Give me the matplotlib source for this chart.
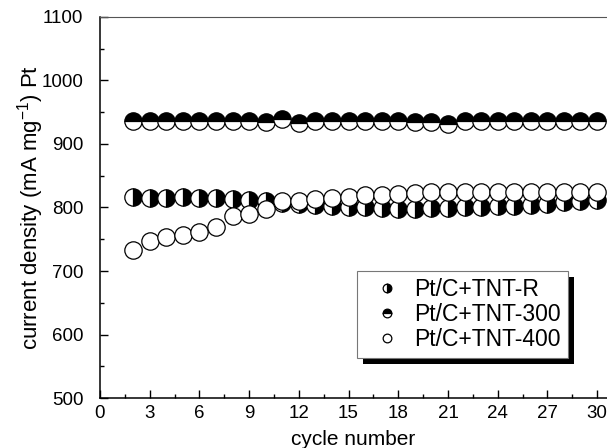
import matplotlib
matplotlib.use("Agg")
import matplotlib.pyplot as plt
from matplotlib.patches import Rectangle
from matplotlib.ticker import MultipleLocator

plt.rcParams['font.family'] = ['Liberation Sans', 'DejaVu Sans']
plt.rcParams['mathtext.fontset'] = 'custom'
plt.rcParams['mathtext.rm'] = 'Liberation Sans'
plt.rcParams['mathtext.it'] = 'Liberation Sans:italic'

# valores (ciclos 2..30)
cycles = list(range(2, 31))
tnt_r = [816, 815, 815, 816, 815, 815, 814, 812, 810, 807, 805, 804, 803, 801, 800,
         799, 798, 798, 799, 799, 800, 801, 802, 803, 804, 806, 808, 810, 812]
tnt_300 = [937, 937, 936, 937, 937, 936, 937, 936, 935, 939, 933, 936, 937, 937, 937,
           937, 936, 935, 934, 931, 937, 937, 937, 937, 937, 937, 937, 937, 937]
tnt_400 = [733, 747, 753, 757, 762, 770, 787, 790, 797, 810, 811, 813, 815, 817, 819,
           820, 822, 823, 824, 824, 825, 825, 825, 825, 825, 824, 824, 825, 825]
labels = ['Pt/C+TNT-R', 'Pt/C+TNT-300', 'Pt/C+TNT-400']

fig = plt.figure(figsize=(6.07, 4.48), dpi=100)
ax = fig.add_axes([100/607, 1 - 398/448, 1 - 100/607, (398 - 17)/448])

ms = 12.5
ax.plot(cycles, tnt_r, 'o', ls='none', ms=ms, mec='black', mew=0.9,
        fillstyle='right', mfc='black', mfcalt='white', label=labels[0])
ax.plot(cycles, tnt_300, 'o', ls='none', ms=ms, mec='black', mew=0.9,
        fillstyle='top', mfc='black', mfcalt='white', label=labels[1])
ax.plot(cycles, tnt_400, 'o', ls='none', ms=ms, mec='black', mew=0.9,
        mfc='white', label=labels[2])

ax.set_xlim(0, 30.6)
ax.set_ylim(500, 1100)
ax.xaxis.set_major_locator(MultipleLocator(3))
ax.xaxis.set_minor_locator(MultipleLocator(1.5))
ax.yaxis.set_major_locator(MultipleLocator(100))
ax.yaxis.set_minor_locator(MultipleLocator(50))
ax.tick_params(which='both', direction='in', labelsize=13.5, width=1, top=False, right=False)
ax.tick_params(which='major', length=5.5)
ax.tick_params(which='minor', length=3)
ax.tick_params(axis='x', which='major', pad=5)
ax.tick_params(axis='y', which='major', pad=12)
ax.spines['right'].set_visible(False)
ax.spines['top'].set_color('#555555')
for s in ['left', 'bottom']:
    ax.spines[s].set_linewidth(1.1)

ax.set_xlabel('cycle number', fontsize=15, labelpad=6)
ax.set_ylabel('current density (mA mg$^{-1}$) Pt', fontsize=16, labelpad=-3)

leg = ax.legend(loc='upper left', bbox_to_anchor=(357/607, 1 - 271/448),
                bbox_transform=fig.transFigure, fontsize=16.5, markerscale=0.5,
                fancybox=False, edgecolor='#777777', framealpha=1,
                handletextpad=0.2, borderpad=0.3, labelspacing=0.1,
                handlelength=2.0, borderaxespad=0)
leg.get_frame().set_linewidth(0.8)
leg.set_zorder(5)

# sombra preta deslocada atrás da legenda
fig.canvas.draw()
bb = leg.get_window_extent().transformed(fig.transFigure.inverted())
dx, dy = 6/607, 6/448
shadow = Rectangle((bb.x0 + dx, bb.y0 - dy), bb.width, bb.height,
                   transform=fig.transFigure, facecolor='black', edgecolor='none',
                   zorder=4, clip_on=False)
ax.add_patch(shadow)

fig.savefig('out.png', dpi=100)
